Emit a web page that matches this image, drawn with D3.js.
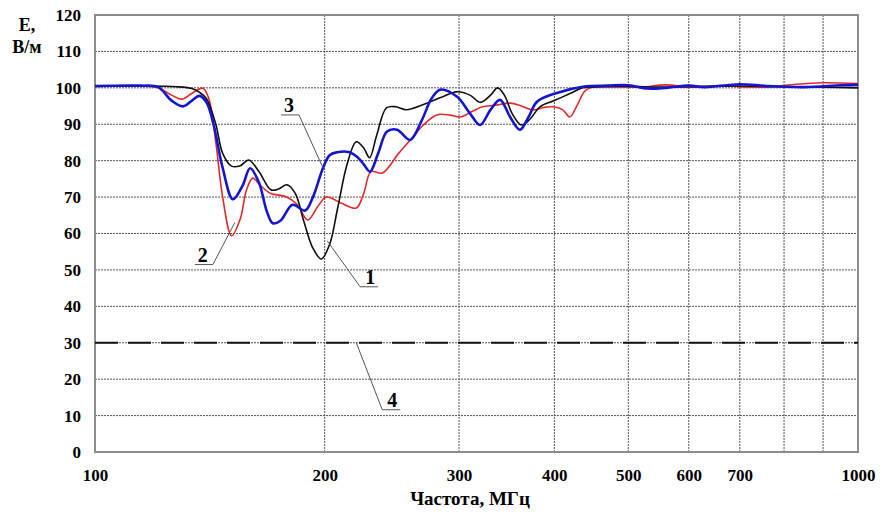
<!DOCTYPE html>
<html>
<head>
<meta charset="utf-8">
<script src="https://cdn.jsdelivr.net/npm/d3@7"></script>
<style>
  body { margin: 0; background: #fff; }
  text { font-family: "Liberation Serif", "Times New Roman", serif; font-weight: bold; }
</style>
</head>
<body>
<div id="chart"></div>
<script>
var margin = {top: 15, right: 30, bottom: 66, left: 95},
    width = 888 - margin.left - margin.right,
    height = 518 - margin.top - margin.bottom;

// frequency (MHz), E (V/m)
var curve1 = [[100,100.4],[115,100.5],[128,100.3],[134,99.8],[137,98.8],[140,97],[144,90],[147,82],
  [151,78.5],[155,78.6],[159,80.2],[164,77],[170,72],[174,72.2],[178.5,73.4],[183,71],[188,63],
  [193,56],[198,53],[203,57],[208,67],[214,79],[220,85.2],[225,83.5],[229,80.8],[234,87],[241,94.5],
  [248,94.8],[256,94],[270,95.5],[285,97.5],[298,98.9],[310,98],[320,96],[330,98],[337,100],[344,98],
  [352,93],[362,89.8],[372,91.5],[383,94.8],[400,96.5],[420,98.5],[436,100],[460,100.3],[500,100.4],
  [550,100.2],[600,100.3],[700,100.5],[800,100.3],[900,100.2],[1000,100]];

var curve2 = [[100,100.5],[115,100.5],[121,100],[126,98],[130,96.9],[134,98.5],[138.5,99.9],[141,97],
  [144,85],[147,70],[151,59.4],[155,64],[158,72],[161,75.2],[165,73],[170,71],[178,70.1],[184,68],
  [190,63.7],[196,67.5],[201,70],[210,68.4],[220,67],[225,71],[230,77],[238,76.6],[250,82],[261,86.5],
  [270,90],[281,92.6],[292,92.5],[301,92],[312,93.5],[322,94.8],[335,95.2],[350,95.8],[362,95],
  [375,93.9],[387,94.6],[398,94.8],[410,94],[419,92],[428,95],[438,99],[446,100],[480,100.3],
  [520,100.2],[560,100.8],[600,100.2],[660,100.6],[700,100.3],[760,100.2],[830,101],[900,101.4],[1000,101.2]];

var curve3 = [[100,100.5],[115,100.6],[121,100.2],[126,96.5],[130.4,94.9],[134,96.5],[137,97.8],[140,96],
  [143,90],[147,78],[151.6,69.4],[156,73],[159.7,77.9],[164,74],[168,66],[171,62.8],[175,63.5],
  [181.5,67.9],[188.5,66.3],[193,70],[199,78],[203,81.5],[207.6,82.3],[215,82.4],[220.5,81.1],[225,79],
  [229.3,77],[235,82],[241.4,88],[248.8,88.5],[258.8,85.7],[268,91],[276,97],[283.3,99.5],[298,97.6],
  [310,93],[319.6,89.8],[330,94],[339.5,96.7],[350,92],[360.6,88.5],[370,92],[379.6,96.2],[403,98.6],
  [436,100.3],[470,100.6],[500,100.7],[530,99.8],[560,100],[600,100.6],[630,100.2],[700,101],
  [760,100.5],[850,100.2],[950,100.7],[1000,100.8]];

var limitLevel = 30;  // curve 4

var xTickLabels = [100, 200, 300, 400, 500, 600, 700, 1000];
var xGrid = [200, 300, 400, 500, 600, 700, 800, 900];
var yTicks = [0, 10, 20, 30, 40, 50, 60, 70, 80, 90, 100, 110, 120];

var x = d3.scaleLog().domain([100, 1000]).range([0, width]);
var y = d3.scaleLinear().domain([0, 120]).range([height, 0]);

var svg = d3.select("#chart").append("svg")
    .attr("width", 888)
    .attr("height", 518)
  .append("g")
    .attr("transform", "translate(" + margin.left + "," + margin.top + ")");

// grid
svg.selectAll(".hgrid").data(yTicks.slice(1, -1)).enter().append("line")
    .attr("x1", 0).attr("x2", width)
    .attr("y1", function(d){ return y(d); }).attr("y2", function(d){ return y(d); })
    .attr("stroke", "#555").attr("stroke-width", 1).attr("stroke-dasharray", "2,1");
svg.selectAll(".vgrid").data(xGrid).enter().append("line")
    .attr("x1", function(d){ return x(d); }).attr("x2", function(d){ return x(d); })
    .attr("y1", 0).attr("y2", height)
    .attr("stroke", "#555").attr("stroke-width", 1).attr("stroke-dasharray", "2,1");

// frame
svg.append("rect")
    .attr("x", 0).attr("y", 0).attr("width", width).attr("height", height)
    .attr("fill", "none").attr("stroke", "#8c8c8c").attr("stroke-width", 2);

// axes labels
var yAxis = d3.axisLeft(y).tickValues(yTicks).tickSize(0).tickPadding(14);
svg.append("g").call(yAxis)
  .call(function(g){ g.select(".domain").remove(); })
  .selectAll("text").attr("font-size", 17).attr("fill", "#000")
    .style("font-family", "'Liberation Serif', serif").style("font-weight", "bold");

var xAxis = d3.axisBottom(x).tickValues(xTickLabels).tickFormat(d3.format("d")).tickSize(0).tickPadding(17);
svg.append("g").attr("transform", "translate(0," + height + ")").call(xAxis)
  .call(function(g){ g.select(".domain").remove(); })
  .selectAll("text").attr("font-size", 17).attr("fill", "#000")
    .style("font-family", "'Liberation Serif', serif").style("font-weight", "bold");

svg.append("text").attr("x", 375).attr("y", height + 53)
    .attr("text-anchor", "middle").attr("font-size", 19).text("Частота, МГц");
svg.append("text").attr("x", -68).attr("y", 16).attr("text-anchor", "middle")
    .attr("font-size", 18).text("E,");
svg.append("text").attr("x", -68).attr("y", 38).attr("text-anchor", "middle")
    .attr("font-size", 18).text("В/м");

// curves
var line = d3.line()
    .x(function(d){ return x(d[0]); })
    .y(function(d){ return y(d[1]); })
    .curve(d3.curveCatmullRom.alpha(0.5));

svg.append("path").datum(curve2).attr("d", line)
    .attr("fill", "none").attr("stroke", "#e02a2a").attr("stroke-width", 1.6);
svg.append("path").datum(curve1).attr("d", line)
    .attr("fill", "none").attr("stroke", "#111").attr("stroke-width", 1.6);
svg.append("path").datum(curve3).attr("d", line)
    .attr("fill", "none").attr("stroke", "#1515d0").attr("stroke-width", 2.6);

svg.append("line")
    .attr("x1", 0).attr("x2", width)
    .attr("y1", y(limitLevel)).attr("y2", y(limitLevel))
    .attr("stroke", "#111").attr("stroke-width", 2).attr("stroke-dasharray", "23,10");

// callouts: label, point on curve (freq, E), elbow offset in px
var callouts = [
  {label: "1", f: 201.5, e: 58, dx: 33, dy: 46, side: 1},
  {label: "2", f: 152.5, e: 63, dx: -22, dy: 42, side: -1},
  {label: "3", f: 199, e: 78, dx: -24, dy: -53, side: -1},
  {label: "4", f: 220, e: limitLevel, dx: 26, dy: 67, side: 1}
];
callouts.forEach(function(c){
  var px = x(c.f), py = y(c.e);
  var ex = px + c.dx, ey = py + c.dy;
  var ux = ex + c.side * 18;
  svg.append("polyline")
      .attr("points", [[px, py], [ex, ey], [ux, ey]].join(" "))
      .attr("fill", "none").attr("stroke", "#555").attr("stroke-width", 1);
  svg.append("text")
      .attr("x", (ex + ux) / 2 + (c.side > 0 ? 1 : -1)).attr("y", ey - 3)
      .attr("text-anchor", "middle").attr("font-size", 20).text(c.label);
});
</script>
</body>
</html>
